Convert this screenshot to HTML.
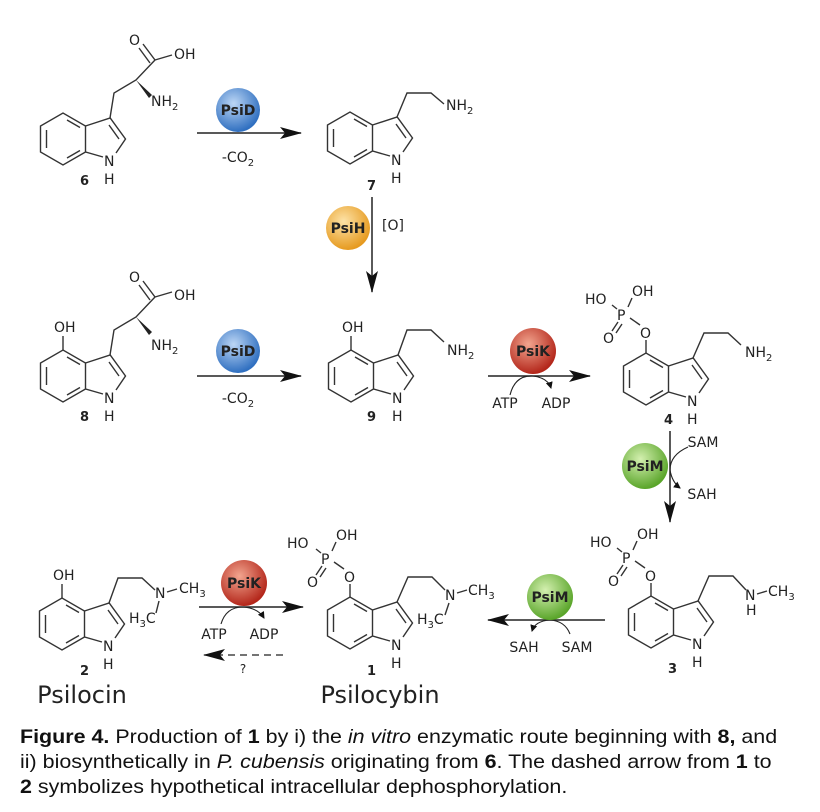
<!DOCTYPE html>
<html><head><meta charset="utf-8"><style>
body{margin:0;background:#fff;width:820px;height:812px;overflow:hidden;font-family:"Liberation Sans",sans-serif}
svg text{font-family:"DejaVu Sans","Liberation Sans",sans-serif;fill:#222}
.cap{position:absolute;left:20px;top:725px;font-size:19.5px;line-height:25px;color:#111;white-space:nowrap;transform:scaleX(1.1);transform-origin:0 0}
</style></head><body>
<svg width="820" height="720" viewBox="0 0 820 720" style="position:absolute;left:0;top:0">
<defs>
<g id="ind" stroke="#333" stroke-width="1.4" fill="none">
<polyline points="22.5,13 22.5,-13 0,-26 -22.5,-13 -22.5,13 0,26 22.5,13 40,18"/>
<polyline points="22.5,-13 47.2,-21 62.5,0 53,14"/>
<line x1="4" y1="-19" x2="17" y2="-11.5"/>
<line x1="-16.5" y1="-9" x2="-16.5" y2="9"/>
<line x1="4" y1="19" x2="17" y2="11.5"/>
<line x1="46" y1="-14" x2="56" y2="0"/>
</g>
<radialGradient id="gb" cx="40%" cy="35%" r="65%"><stop offset="0" stop-color="#bcd6f5"/><stop offset="1" stop-color="#2f6fc0"/></radialGradient>
<radialGradient id="go" cx="40%" cy="35%" r="65%"><stop offset="0" stop-color="#fde3a8"/><stop offset="1" stop-color="#e69a1f"/></radialGradient>
<radialGradient id="gr" cx="40%" cy="35%" r="65%"><stop offset="0" stop-color="#f2a58f"/><stop offset="1" stop-color="#b3261a"/></radialGradient>
<radialGradient id="gg" cx="40%" cy="35%" r="65%"><stop offset="0" stop-color="#d4f0b0"/><stop offset="1" stop-color="#5aa52a"/></radialGradient>
<marker id="ah" markerWidth="22" markerHeight="12" refX="21" refY="6" orient="auto" markerUnits="userSpaceOnUse"><path d="M0,0 L22,6 L0,12 L5,6Z" fill="#111"/></marker>
<marker id="sa" markerWidth="7" markerHeight="7" refX="6" refY="3.5" orient="auto" markerUnits="userSpaceOnUse"><path d="M0,0 L7,3.5 L0,7Z" fill="#111"/></marker>
</defs>

<g font-size="14">
<use href="#ind" x="63" y="139"/>
<text x="104" y="166">N</text><text x="104" y="184">H</text>
<text x="80" y="185" font-weight="bold" font-size="13">6</text>
<polyline points="110,118 114,93 136,80 155,60" stroke="#333" stroke-width="1.4" fill="none"/>
<path d="M136,80 L152,95 L149,98Z" fill="#222"/>
<line x1="155" y1="60" x2="143" y2="44" stroke="#333" stroke-width="1.4"/><line x1="150" y1="63" x2="139" y2="48" stroke="#333" stroke-width="1.4"/>
<line x1="155" y1="60" x2="172" y2="55" stroke="#333" stroke-width="1.4"/>
<text x="129" y="45">O</text><text x="174" y="59">OH</text>
<text x="151" y="106">NH<tspan font-size="10" dy="4">2</tspan></text>

<use href="#ind" x="350" y="138"/>
<text x="391" y="165">N</text><text x="391" y="183">H</text>
<text x="367" y="190" font-weight="bold" font-size="13">7</text>
<polyline points="397,117 407,93 431,93 444,104" stroke="#333" stroke-width="1.4" fill="none"/>
<text x="446" y="110">NH<tspan font-size="10" dy="4">2</tspan></text>

<use href="#ind" x="63" y="376"/>
<text x="104" y="403">N</text><text x="104" y="421">H</text>
<text x="80" y="421" font-weight="bold" font-size="13">8</text>
<line x1="63" y1="350" x2="63" y2="336" stroke="#333" stroke-width="1.4"/>
<text x="54" y="332">OH</text>
<polyline points="110,355 114,330 136,317 155,297" stroke="#333" stroke-width="1.4" fill="none"/>
<path d="M136,317 L152,332 L149,335Z" fill="#222"/>
<line x1="155" y1="297" x2="143" y2="281" stroke="#333" stroke-width="1.4"/><line x1="150" y1="300" x2="139" y2="285" stroke="#333" stroke-width="1.4"/>
<line x1="155" y1="297" x2="172" y2="292" stroke="#333" stroke-width="1.4"/>
<text x="129" y="282">O</text><text x="174" y="300">OH</text>
<text x="151" y="350">NH<tspan font-size="10" dy="4">2</tspan></text>

<use href="#ind" x="351" y="376"/>
<text x="392" y="403">N</text><text x="392" y="421">H</text>
<text x="367" y="421" font-weight="bold" font-size="13">9</text>
<line x1="351" y1="350" x2="351" y2="336" stroke="#333" stroke-width="1.4"/>
<text x="342" y="332">OH</text>
<polyline points="398,355 407,330 431,330 444,342" stroke="#333" stroke-width="1.4" fill="none"/>
<text x="447" y="355">NH<tspan font-size="10" dy="4">2</tspan></text>

<use href="#ind" x="646" y="379"/>
<text x="687" y="406">N</text><text x="687" y="424">H</text>
<text x="664" y="424" font-weight="bold" font-size="13">4</text>
<line x1="646" y1="353" x2="646" y2="340" stroke="#333" stroke-width="1.4"/>
<text x="640" y="338">O</text>
<line x1="640" y1="325" x2="630" y2="318" stroke="#333" stroke-width="1.4"/>
<text x="617" y="320">P</text>
<line x1="612" y1="305" x2="617" y2="309" stroke="#333" stroke-width="1.4"/>
<line x1="628" y1="307" x2="632" y2="298" stroke="#333" stroke-width="1.4"/>
<line x1="618" y1="322" x2="612" y2="331" stroke="#333" stroke-width="1.4"/><line x1="622" y1="324" x2="616" y2="333" stroke="#333" stroke-width="1.4"/>
<text x="585" y="304">HO</text><text x="632" y="296">OH</text><text x="603" y="343">O</text>
<polyline points="693,358 704,333 728,333 741,345" stroke="#333" stroke-width="1.4" fill="none"/>
<text x="745" y="357">NH<tspan font-size="10" dy="4">2</tspan></text>

<use href="#ind" x="651" y="622"/>
<text x="692" y="649">N</text><text x="692" y="667">H</text>
<text x="668" y="673" font-weight="bold" font-size="13">3</text>
<line x1="651" y1="596" x2="651" y2="583" stroke="#333" stroke-width="1.4"/>
<text x="645" y="581">O</text>
<line x1="645" y1="568" x2="635" y2="561" stroke="#333" stroke-width="1.4"/>
<text x="622" y="563">P</text>
<line x1="617" y1="548" x2="622" y2="552" stroke="#333" stroke-width="1.4"/>
<line x1="633" y1="550" x2="637" y2="541" stroke="#333" stroke-width="1.4"/>
<line x1="623" y1="565" x2="617" y2="574" stroke="#333" stroke-width="1.4"/><line x1="627" y1="567" x2="621" y2="576" stroke="#333" stroke-width="1.4"/>
<text x="590" y="547">HO</text><text x="637" y="539">OH</text><text x="608" y="586">O</text>
<polyline points="698,601 709,576 733,576 746,590" stroke="#333" stroke-width="1.4" fill="none"/>
<text x="745" y="600">N</text><text x="746" y="615">H</text>
<line x1="757" y1="594" x2="767" y2="591" stroke="#333" stroke-width="1.4"/>
<text x="768" y="596">CH<tspan font-size="10" dy="4">3</tspan></text>

<use href="#ind" x="350" y="623"/>
<text x="391" y="650">N</text><text x="391" y="668">H</text>
<text x="367" y="675" font-weight="bold" font-size="13">1</text>
<line x1="350" y1="597" x2="350" y2="584" stroke="#333" stroke-width="1.4"/>
<text x="344" y="582">O</text>
<line x1="344" y1="569" x2="334" y2="562" stroke="#333" stroke-width="1.4"/>
<text x="321" y="564">P</text>
<line x1="316" y1="549" x2="321" y2="553" stroke="#333" stroke-width="1.4"/>
<line x1="332" y1="551" x2="336" y2="542" stroke="#333" stroke-width="1.4"/>
<line x1="322" y1="566" x2="316" y2="575" stroke="#333" stroke-width="1.4"/><line x1="326" y1="568" x2="320" y2="577" stroke="#333" stroke-width="1.4"/>
<text x="287" y="548">HO</text><text x="336" y="540">OH</text><text x="307" y="587">O</text>
<polyline points="397,602 408,577 432,577 445,590" stroke="#333" stroke-width="1.4" fill="none"/>
<text x="445" y="600">N</text>
<line x1="457" y1="593" x2="467" y2="590" stroke="#333" stroke-width="1.4"/>
<text x="468" y="595">CH<tspan font-size="10" dy="4">3</tspan></text>
<line x1="449" y1="603" x2="445" y2="615" stroke="#333" stroke-width="1.4"/>
<text x="417" y="624">H<tspan font-size="10" dy="4">3</tspan><tspan dy="-4">C</tspan></text>

<use href="#ind" x="62" y="624"/>
<text x="103" y="651">N</text><text x="103" y="669">H</text>
<text x="80" y="675" font-weight="bold" font-size="13">2</text>
<line x1="62" y1="598" x2="62" y2="584" stroke="#333" stroke-width="1.4"/>
<text x="53" y="580">OH</text>
<polyline points="109,603 118,578 142,578 155,590" stroke="#333" stroke-width="1.4" fill="none"/>
<text x="155" y="598">N</text>
<line x1="167" y1="592" x2="177" y2="589" stroke="#333" stroke-width="1.4"/>
<text x="179" y="593">CH<tspan font-size="10" dy="4">3</tspan></text>
<line x1="159" y1="601" x2="156" y2="613" stroke="#333" stroke-width="1.4"/>
<text x="129" y="623">H<tspan font-size="10" dy="4">3</tspan><tspan dy="-4">C</tspan></text>
</g>

<g stroke="#222" stroke-width="1.5" fill="none">
<line x1="197" y1="133" x2="301" y2="133" marker-end="url(#ah)"/>
<line x1="372" y1="197" x2="372" y2="292" marker-end="url(#ah)"/>
<line x1="197" y1="376" x2="301" y2="376" marker-end="url(#ah)"/>
<line x1="488" y1="376" x2="590" y2="376" marker-end="url(#ah)"/>
<path d="M510,395 Q515,375 533,376 Q548,378 551,388" stroke-width="1.1" marker-end="url(#sa)"/>
<line x1="670" y1="431" x2="670" y2="522" marker-end="url(#ah)"/>
<path d="M688,447 Q670,455 670,470 Q672,482 680,488" stroke-width="1.1" marker-end="url(#sa)"/>
<line x1="605" y1="620" x2="488" y2="620" marker-end="url(#ah)"/>
<path d="M570,634 Q565,621 550,620 Q535,621 532,631" stroke-width="1.1" marker-end="url(#sa)"/>
<line x1="199" y1="607" x2="303" y2="607" marker-end="url(#ah)"/>
<path d="M221,624 Q226,607 243,607 Q258,608 264,618" stroke-width="1.1" marker-end="url(#sa)"/>
<line x1="283" y1="655" x2="204" y2="655" stroke-dasharray="7,5" stroke-width="1.2" marker-end="url(#ah)"/>
</g>

<g font-size="14" font-weight="bold" text-anchor="middle">
<circle cx="238" cy="110" r="22" fill="url(#gb)"/><text x="238" y="115">PsiD</text>
<circle cx="348" cy="228" r="22" fill="url(#go)"/><text x="348" y="233">PsiH</text>
<circle cx="238" cy="351" r="22" fill="url(#gb)"/><text x="238" y="356">PsiD</text>
<circle cx="533" cy="351" r="23" fill="url(#gr)"/><text x="533" y="356">PsiK</text>
<circle cx="645" cy="466" r="23" fill="url(#gg)"/><text x="645" y="471">PsiM</text>
<circle cx="550" cy="597" r="23" fill="url(#gg)"/><text x="550" y="602">PsiM</text>
<circle cx="244" cy="583" r="23" fill="url(#gr)"/><text x="244" y="588">PsiK</text>
</g>
<g font-size="14" text-anchor="middle">
<text x="238" y="162">-CO<tspan font-size="10" dy="4">2</tspan></text>
<text x="393" y="230">[O]</text>
<text x="238" y="403">-CO<tspan font-size="10" dy="4">2</tspan></text>
<text x="505" y="408">ATP</text><text x="556" y="408">ADP</text>
<text x="703" y="447">SAM</text><text x="702" y="499">SAH</text>
<text x="524" y="652">SAH</text><text x="577" y="652">SAM</text>
<text x="214" y="639">ATP</text><text x="264" y="639">ADP</text>
<text x="243" y="673" font-size="12">?</text>
<text x="82" y="703" font-size="24">Psilocin</text>
<text x="380" y="703" font-size="24">Psilocybin</text>
</g>
</svg>
<div class="cap"><b>Figure 4.</b> Production of <b>1</b> by i) the <i>in vitro</i> enzymatic route beginning with <b>8,</b> and<br>ii) biosynthetically in <i>P. cubensis</i> originating from <b>6</b>. The dashed arrow from <b>1</b> to<br><b>2</b> symbolizes hypothetical intracellular dephosphorylation.</div>
</body></html>
